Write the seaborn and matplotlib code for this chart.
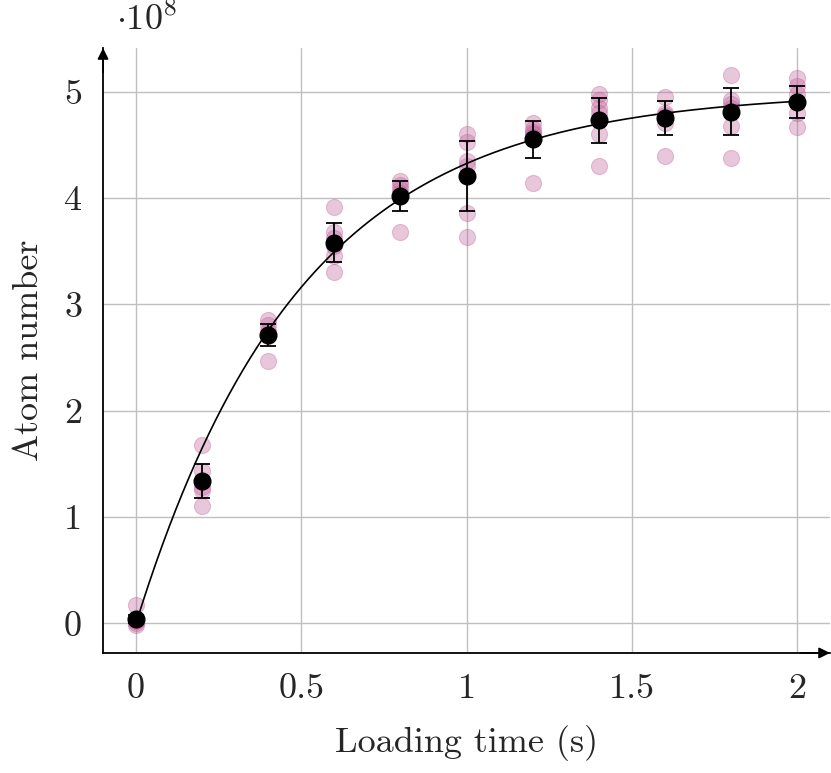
import numpy as np
import pandas as pd
import matplotlib.pyplot as plt
import seaborn as sb

# raw shots per loading time (units of 1e8 atoms)
times = [0.0, 0.2, 0.4, 0.6, 0.8, 1.0, 1.2, 1.4, 1.6, 1.8, 2.0]
shots = [
    [0.17, 0.03, 0.0, -0.02, 0.02],
    [1.68, 1.43, 1.33, 1.28, 1.25, 1.10],
    [2.85, 2.80, 2.75, 2.70, 2.47],
    [3.91, 3.68, 3.62, 3.55, 3.45, 3.30],
    [4.16, 4.12, 4.08, 4.05, 3.68],
    [4.60, 4.53, 4.35, 4.30, 3.86, 3.63],
    [4.70, 4.65, 4.62, 4.60, 4.57, 4.14],
    [4.98, 4.92, 4.85, 4.80, 4.60, 4.30],
    [4.95, 4.80, 4.78, 4.76, 4.70, 4.39],
    [5.16, 4.92, 4.88, 4.85, 4.68, 4.38],
    [5.13, 5.05, 4.98, 4.90, 4.80, 4.67],
]
means = [0.04, 1.34, 2.71, 3.58, 4.02, 4.21, 4.55, 4.73, 4.75, 4.81, 4.90]
errs = [0.04, 0.16, 0.10, 0.18, 0.14, 0.33, 0.17, 0.21, 0.16, 0.22, 0.15]

# loading fit N(t) = Nmax (1 - exp(-t/tau))
n_max = 5.0
tau = 0.5

rows = [(t, v) for t, vals in zip(times, shots) for v in vals]
df = pd.DataFrame(rows, columns=['t', 'N'])
t_fit = np.linspace(0, 2, 200)
fit = pd.DataFrame({'t': t_fit, 'N': n_max * (1 - np.exp(-t_fit / tau))})

sb.set_style('white')
plt.rcParams['font.family'] = 'serif'
plt.rcParams['font.serif'] = ['cmr10']
plt.rcParams['mathtext.fontset'] = 'cm'
plt.rcParams['axes.unicode_minus'] = False

fig = plt.figure(figsize=(8.31, 7.73), dpi=100)
ax = fig.add_axes([0.124, 0.1553, 0.8748, 0.7826])

sb.scatterplot(data=df, x='t', y='N', ax=ax, color='#c0609a', alpha=0.35,
               s=135, edgecolor='#c0609a', linewidth=0.8, zorder=2)
sb.lineplot(data=fit, x='t', y='N', ax=ax, color='black', linewidth=1.2, zorder=3)
ax.errorbar(times, means, yerr=errs, fmt='o', color='black', markersize=12,
            capsize=6, elinewidth=1.3, capthick=1.3, zorder=4)

ax.set_xlim(-0.1, 2.1)
ax.set_ylim(-0.28, 5.41)
ax.set_xticks([0, 0.5, 1, 1.5, 2])
ax.set_xticklabels(['0', '0.5', '1', '1.5', '2'])
ax.set_yticks([0, 1, 2, 3, 4, 5])
ax.grid(True, color='#bfbfbf', linewidth=1)
ax.set_axisbelow(True)
ax.tick_params(labelsize=26, length=7, width=1, color='#bfbfbf', pad=8)
ax.set_xlabel('Loading time (s)', fontsize=26, labelpad=14)
ax.set_ylabel('Atom number', fontsize=26, labelpad=14)

for s in ['top', 'right']:
    ax.spines[s].set_visible(False)
for s in ['left', 'bottom']:
    ax.spines[s].set_color('black')
    ax.spines[s].set_linewidth(1.3)
arrow = dict(arrowstyle='-|>', color='black', lw=1.3, mutation_scale=16,
             shrinkA=0, shrinkB=0)
ax.annotate('', xy=(1.0, 0), xytext=(0.96, 0), xycoords='axes fraction',
            arrowprops=arrow, annotation_clip=False)
ax.annotate('', xy=(0, 1.0), xytext=(0, 0.96), xycoords='axes fraction',
            arrowprops=arrow, annotation_clip=False)
ax.text(0.018, 1.03, r'$\cdot 10^8$', transform=ax.transAxes, fontsize=26,
        ha='left', va='baseline')

fig.savefig('out.png', dpi=100)
